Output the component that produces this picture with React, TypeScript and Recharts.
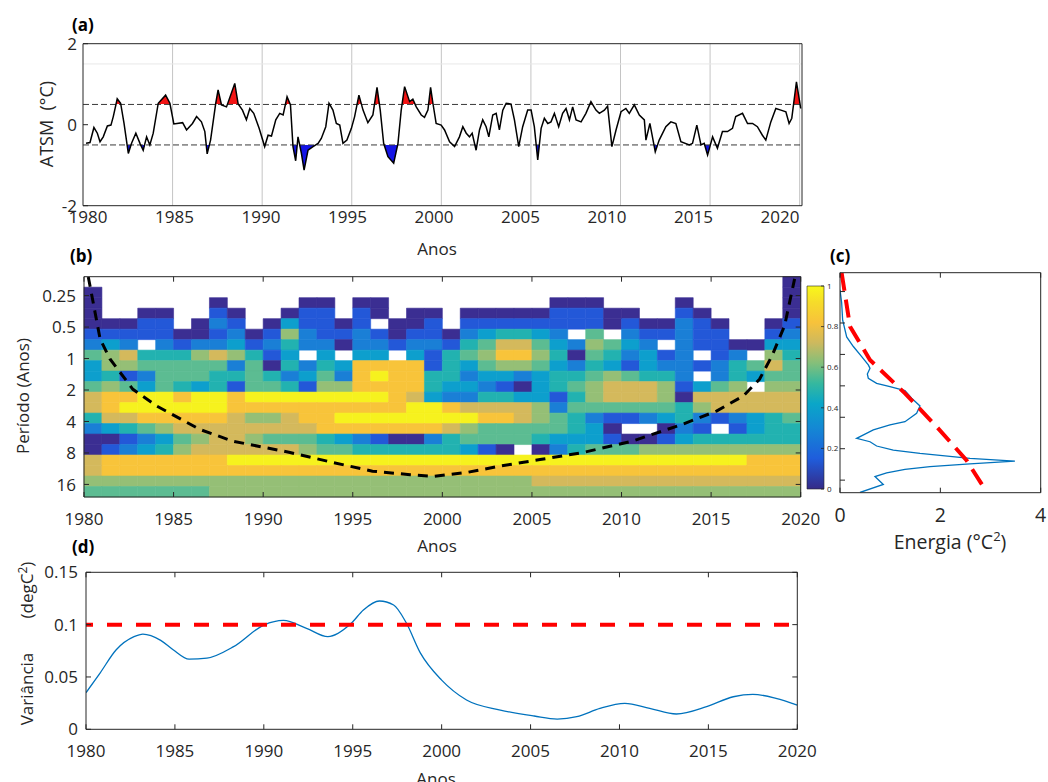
import React from 'react';
import { ComposedChart, Line, Area, XAxis, YAxis, ReferenceLine, ReferenceArea } from 'recharts';

const FONT = '"Open Sans", "DejaVu Sans", Arial, sans-serif';
const INK = '#262626';

/* ---------------- shared ticks ---------------- */
const yearTicks = [1980, 1985, 1990, 1995, 2000, 2005, 2010, 2015, 2020];
const periodTicks = [0.25, 0.5, 1, 2, 4, 8, 16];

/* ---------------- (a) ATSM series ---------------- */
const atsmYear = [
  1980.17, 1980.39, 1980.61, 1980.8, 1980.95, 1981.13, 1981.36, 1981.56, 1981.69, 1981.91,
  1982.1, 1982.29, 1982.53, 1982.71, 1982.95, 1983.18, 1983.36, 1983.55, 1983.73, 1983.92,
  1984.2, 1984.61, 1984.85, 1985.07, 1985.56, 1985.78, 1986.11, 1986.34, 1986.61, 1986.8,
  1986.93, 1987.12, 1987.41, 1987.54, 1987.73, 1988.01, 1988.47, 1988.66, 1988.9, 1989.12,
  1989.31, 1989.53, 1989.83, 1990.14, 1990.33, 1990.52, 1990.76, 1990.98, 1991.17, 1991.39,
  1991.58, 1991.72, 1991.87, 1992.0, 1992.19, 1992.34, 1992.56, 1992.84, 1993.12, 1993.3,
  1993.55, 1993.73, 1993.95, 1994.14, 1994.33, 1994.51, 1994.73, 1994.98, 1995.16, 1995.4,
  1995.63, 1995.9, 1996.18, 1996.41, 1996.59, 1996.78, 1997.02, 1997.34, 1997.58, 1997.76,
  1997.95, 1998.23, 1998.41, 1998.6, 1998.88, 1999.06, 1999.25, 1999.4, 1999.53, 1999.71,
  1999.99, 2000.18, 2000.46, 2000.74, 2001.01, 2001.2, 2001.39, 2001.57, 2001.72, 2001.94,
  2002.13, 2002.31, 2002.5, 2002.65, 2002.87, 2003.06, 2003.24, 2003.43, 2003.62, 2003.89,
  2004.08, 2004.32, 2004.54, 2004.82, 2005.01, 2005.19, 2005.38, 2005.57, 2005.75, 2005.94,
  2006.12, 2006.31, 2006.55, 2006.77, 2006.96, 2007.15, 2007.33, 2007.52, 2007.8, 2008.07,
  2008.35, 2008.63, 2008.82, 2009.1, 2009.28, 2009.52, 2009.75, 2010.03, 2010.3, 2010.49,
  2010.77, 2011.05, 2011.33, 2011.42, 2011.64, 2011.94, 2012.16, 2012.53, 2012.81, 2013.09,
  2013.37, 2013.84, 2014.02, 2014.26, 2014.49, 2014.67, 2014.86, 2015.14, 2015.41, 2015.69,
  2015.97, 2016.25, 2016.43, 2016.81, 2017.09, 2017.37, 2017.64, 2017.92, 2018.11, 2018.39,
  2018.67, 2018.95, 2019.23, 2019.41, 2019.56, 2019.82, 2020.06,
];
const atsmValue = [
  -0.46, -0.44, -0.07, -0.21, -0.42, -0.3, -0.03, -0.01, 0.2, 0.64,
  0.53, 0.03, -0.71, -0.46, -0.21, -0.46, -0.63, -0.3, -0.5, -0.21,
  0.53, 0.73, 0.53, 0.02, 0.05, -0.13, 0.03, 0.2, 0.07, -0.17,
  -0.72, -0.38, 0.53, 0.86, 0.49, 0.44, 1.02, 0.51, 0.36, 0.12,
  0.4, 0.28, -0.09, -0.54, -0.26, -0.28, 0.12, 0.28, 0.24, 0.69,
  0.49, -0.54, -0.89, -0.3, -0.71, -1.12, -0.63, -0.54, -0.46, -0.34,
  -0.05, 0.53, 0.36, 0.03, -0.01, -0.46, -0.38, -0.09, 0.2, 0.73,
  0.36, 0.05, 0.24, 0.92, 0.36, -0.46, -0.79, -0.95, -0.46, 0.36,
  0.94, 0.57, 0.63, 0.44, 0.24, 0.18, 0.36, 0.92, 0.53, 0.03,
  -0.01, -0.13, -0.42, -0.54, -0.3, -0.05, -0.21, -0.3, -0.21, -0.63,
  -0.13, 0.12, -0.05, -0.3, 0.24, 0.28, -0.13, 0.36, 0.53, 0.51,
  0.12, -0.54, -0.05, 0.36, 0.36, -0.05, -0.87, -0.09, 0.16, 0.03,
  0.07, 0.28, -0.05, 0.28, 0.4, 0.12, 0.44, 0.12, 0.07, 0.28,
  0.57, 0.36, 0.28, 0.36, 0.46, -0.54, -0.13, 0.32, 0.4, 0.28,
  0.49, 0.24, 0.12, -0.38, 0.03, -0.67, -0.38, -0.05, 0.07, 0.03,
  -0.42, -0.5, -0.46, -0.01, -0.5, -0.46, -0.75, -0.3, -0.58, -0.17,
  -0.17, -0.09, 0.2, 0.28, 0.03, 0.03, -0.05, -0.26, -0.38, 0.07,
  0.4, 0.36, 0.32, 0.03, 0.16, 1.06, 0.4,
];
const atsmTicks = [-2, 0, 2];
const warmLimit = 0.5;
const coldLimit = -0.5;

/* ---------------- (b) wavelet power ---------------- */
const waveYearEdges = [
  1980, 1981, 1982, 1983, 1984, 1985, 1986, 1987, 1988, 1989, 1990, 1991, 1992, 1993,
  1994, 1995, 1996, 1997, 1998, 1999, 2000, 2001, 2002, 2003, 2004, 2005, 2006, 2007,
  2008, 2009, 2010, 2011, 2012, 2013, 2014, 2015, 2016, 2017, 2018, 2019, 2020,
];
const periodEdges = [
  0.1649, 0.2078, 0.2618, 0.3299, 0.4156, 0.5236, 0.6597, 0.8312, 1.0473, 1.3195, 1.6624,
  2.0945, 2.639, 3.3249, 4.189, 5.2778, 6.6498, 8.3781, 10.5558, 13.2994, 16.7562, 21.1115,
];
// normalised power level for each year column (0 = lowest contour ... 9 = highest, '.' = outside the contours)
// rows go from the shortest period (top) to the longest (bottom); each row is four decades
const powerRows = [
  ['..........', '..........', '..........', '.........0'],
  ['0.........', '..........', '..........', '.........0'],
  ['0......0..', '..00.00...', '......000.', '...0.....0'],
  ['0..00..10.', '.011.10.00', '.000001110', '0..10....0'],
  ['00011.021.', '031101.001', '.111111110', '100210..01'],
  ['1111100120', '1621121011', '0234432.5.', '211211..12'],
  ['232.212231', '2422022122', '1457753265', '32.2110033'],
  ['5674446764', '13.3.33.31', '4568864054', '2312.12.64'],
  ['3665555525', '0424388881', '4356653243', '1322124575'],
  ['3412555445', '4235289884', '4233234456', '5442.24355'],
  ['5653543415', '5416688884', '3321034567', '7761356.66'],
  ['7889989989', '9999999873', '2244331467', '7760777777'],
  ['7899999988', '8888888899', '8777762555', '5554677777'],
  ['4778888876', '6788999999', '9988765421', '1234212345'],
  ['2345677777', '7778888888', '7655555430', '..021.1344'],
  ['0012356776', '5554321002', '4555543331', '0013444444'],
  ['0123467777', '7765544444', '4310.02455', '5666666666'],
  ['7888888899', '9999999999', '9999999999', '9999999888'],
  ['7888888888', '8888888888', '8888888888', '8888888888'],
  ['6666666666', '6666666666', '6666677777', '7777777777'],
  ['5555555666', '6666666666', '6666666666', '6666666666'],
];
const powerColors = [
  '#3b2e92', '#2358d8', '#1a7fd6', '#0d9fcd', '#22b2b0',
  '#5cbc92', '#95bf76', '#d4b95c', '#f8c43a', '#f6f21e',
];
const coiYear = [
  1980.24, 1980.9, 1981.45, 1982.73, 1984.06, 1986.47, 1988.3, 1991.5, 1993.9, 1996.1, 1998.2,
  1999.5, 2001.36, 2003.2, 2005.45, 2007.85, 2010.6, 2013.4, 2015.3, 2016.8, 2017.7, 2018.4,
  2019.1, 2019.66,
];
const coiPeriod = [
  0.166, 0.65, 1.01, 1.97, 2.85, 4.77, 6.17, 7.92, 9.88, 11.96, 12.9, 13.4, 12.3, 10.7, 9.26,
  7.92, 6.17, 4.26, 3.18, 2.28, 1.58, 0.94, 0.486, 0.173,
];
const colorbarTicks = [0, 0.2, 0.4, 0.6, 0.8, 1];
const colorbarStops: [number, string][] = [
  [0, '#352a87'], [0.15, '#1f5ddc'], [0.3, '#1488d4'], [0.42, '#0aa6c8'], [0.52, '#35b89f'],
  [0.62, '#84bf7a'], [0.72, '#cdb95e'], [0.82, '#f7c23b'], [0.92, '#f6dc2a'], [1, '#f8f81a'],
];

/* ---------------- (c) global spectrum ---------------- */
const gwsEnergy = [
  0, 0.033, 0.053, 0.133, 0.266, 0.432, 0.564, 0.598, 0.545, 0.564, 0.73, 0.996, 1.295, 1.428,
  1.594, 1.527, 1.295, 0.996, 0.664, 0.332, 0.598, 0.73, 1.062, 1.594, 2.59, 3.486, 2.59, 1.793,
  1.295, 0.93, 0.697, 0.863, 0.398,
];
const gwsPeriod = [
  0.24, 0.32, 0.47, 0.68, 0.84, 1.05, 1.26, 1.36, 1.54, 1.69, 1.89, 2.03, 2.22, 2.63, 3.12, 3.66,
  4.41, 4.74, 5.29, 6.36, 6.86, 7.54, 8.24, 8.86, 9.89, 10.5, 11.2, 11.9, 12.6, 13.6, 14.8, 17.6,
  21.0,
];
const sigEnergy = [0.033, 0.2, 0.598, 1.295, 1.926, 2.52, 2.89];
const sigPeriod = [0.166, 0.541, 1.13, 2.36, 4.92, 10.3, 19.6];
const energyTicks = [0, 2, 4];

/* ---------------- (d) scale-averaged variance ---------------- */
const varYear = [
  1980.0, 1980.8, 1981.7, 1982.7, 1983.2, 1984.2, 1984.9, 1985.8, 1986.8, 1988.3, 1990.0, 1991.1,
  1992.4, 1993.6, 1994.9, 1995.6, 1996.5, 1997.3, 1998.0, 1998.8, 2000.0, 2001.4, 2003.3, 2005.2,
  2006.5, 2007.6, 2008.9, 2010.3, 2011.7, 2013.2, 2014.9, 2016.4, 2017.5, 2018.8, 2020.0,
];
const varValue = [
  0.035, 0.054, 0.076, 0.0885, 0.091, 0.085, 0.076, 0.067, 0.068, 0.079, 0.0996, 0.104, 0.0965,
  0.0885, 0.101, 0.114, 0.1226, 0.1188, 0.102, 0.073, 0.047, 0.028, 0.0184, 0.0127, 0.0098,
  0.012, 0.02, 0.0248, 0.02, 0.0146, 0.0216, 0.0311, 0.0334, 0.0296, 0.0232,
];
const varTicks = [0, 0.05, 0.1, 0.15];
const varSignificance = 0.1;

/* ---------------- derived tables ---------------- */
const nA = Math.min(atsmYear.length, atsmValue.length);
const atsmData = atsmYear.slice(0, nA).map((year, i) => ({ year, v: atsmValue[i] }));
const aMax = Math.max(...atsmValue.slice(0, nA));
const aMin = Math.min(...atsmValue.slice(0, nA));
const warmOff = (aMax - warmLimit) / (aMax - aMin);
const coldOff = (aMax - coldLimit) / (aMax - aMin);

const coiData = coiYear.map((year, i) => ({ year, p: coiPeriod[i] }));
const gwsData = gwsEnergy.map((e, i) => ({ e, p: gwsPeriod[i] }));
const sigData = sigEnergy.map((e, i) => ({ e, p: sigPeriod[i] }));
const varData = varYear.map((year, i) => ({ year, v: varValue[i] }));
const cbData = colorbarTicks.map((t) => ({ t }));

type Cell = { x1: number; x2: number; y1: number; y2: number; c: string };
const cells: Cell[] = [];
powerRows.forEach((chunks, i) => {
  const row = chunks.join('');
  for (let j = 0; j < waveYearEdges.length - 1; j++) {
    const ch = row[j];
    if (ch === undefined || ch === '.') continue;
    const lv = Number(ch);
    if (Number.isNaN(lv)) continue;
    cells.push({
      x1: waveYearEdges[j], x2: waveYearEdges[j + 1],
      y1: periodEdges[i], y2: periodEdges[i + 1], c: powerColors[lv],
    });
  }
});
const pDomain: [number, number] = [periodEdges[0], periodEdges[periodEdges.length - 1]];

/* ---------------- tick renderers ---------------- */
const txt = (fs: number) => ({ fontSize: fs, fill: INK, fontFamily: FONT });

function bottomTick(m: number, fs: number, mark: boolean) {
  return (p: any) => {
    const ay = p.y - m;
    return (
      <g>
        {mark && <line x1={p.x} x2={p.x} y1={ay} y2={ay - 5} stroke={INK} strokeWidth={1} />}
        <text x={p.x} y={p.y} textAnchor="middle" {...txt(fs)}>{String(p.payload.value)}</text>
      </g>
    );
  };
}
function leftTick(m: number, fs: number, mark: boolean, label = true) {
  return (p: any) => {
    const ax = p.x + m;
    return (
      <g>
        {mark && <line x1={ax} x2={ax + 5} y1={p.y} y2={p.y} stroke={INK} strokeWidth={1} />}
        {label && (
          <text x={p.x} y={p.y} dy="0.36em" textAnchor="end" {...txt(fs)}>{String(p.payload.value)}</text>
        )}
      </g>
    );
  };
}
const topTick = (p: any) => <line x1={p.x} x2={p.x} y1={p.y} y2={p.y + 5} stroke={INK} strokeWidth={1} />;
const rightTick = (p: any) => <line x1={p.x - 5} x2={p.x} y1={p.y} y2={p.y} stroke={INK} strokeWidth={1} />;
const cbTick = (p: any) => (
  <g>
    <line x1={p.x - 3} x2={p.x} y1={p.y} y2={p.y} stroke={INK} strokeWidth={0.8} />
    <text x={p.x + 3} y={p.y} dy="0.35em" fontSize={8} fill={INK} fontFamily={FONT}>{String(p.payload.value)}</text>
  </g>
);

const box = { stroke: INK, strokeWidth: 1 };
const abs = (left: number, top: number): React.CSSProperties => ({ position: 'absolute', left, top });
const ghost = { stroke: 'none', dot: false as const, activeDot: false as const, isAnimationActive: false, legendType: 'none' as const };

export default function App() {
  return (
    <div style={{ position: 'absolute', left: 0, top: 0, width: 1048, height: 782, background: '#fff', fontFamily: FONT, overflow: 'hidden' }}>
      {/* (a) */}
      <div style={abs(0, 0)}>
        <ComposedChart width={820} height={240} data={atsmData} margin={{ top: 42.7, right: 17, bottom: 4.3, left: 43 }}>
          <defs>
            <linearGradient id="warmFill" x1="0" y1="0" x2="0" y2="1">
              <stop offset={warmOff} stopColor="#f31414" stopOpacity={1} />
              <stop offset={warmOff} stopColor="#f31414" stopOpacity={0} />
            </linearGradient>
            <linearGradient id="coldFill" x1="0" y1="0" x2="0" y2="1">
              <stop offset={coldOff} stopColor="#1414e6" stopOpacity={0} />
              <stop offset={coldOff} stopColor="#1414e6" stopOpacity={1} />
            </linearGradient>
          </defs>
          <XAxis xAxisId="d" orientation="top" dataKey="year" type="number" domain={[1980, 2020.13]} tick={false}
            tickLine={false} axisLine={box} height={1} allowDataOverflow />
          <XAxis xAxisId="lab" dataKey="year" type="number" domain={[1979.71, 2021.27]} ticks={yearTicks} interval={0}
            tickSize={0} tickMargin={17} tickLine={false} axisLine={box} tick={bottomTick(17, 17, false)} height={30} allowDataOverflow />
          <YAxis yAxisId="l" type="number" domain={[-2, 2]} ticks={atsmTicks} interval={0} tickSize={0} tickMargin={6}
            tickLine={false} axisLine={box} tick={leftTick(6, 17, true)} width={40} allowDataOverflow />
          <YAxis yAxisId="r" orientation="right" type="number" domain={[-2, 2]} tick={false} tickLine={false}
            axisLine={box} width={1} allowDataOverflow />
          {yearTicks.slice(1).map((y) => (
            <ReferenceLine key={y} xAxisId="d" yAxisId="l" x={y} stroke="#c4c4c4" strokeWidth={1} />
          ))}
          <ReferenceLine xAxisId="d" yAxisId="l" y={1.5} stroke="#e8e8e8" strokeWidth={1} />
          <Area xAxisId="d" yAxisId="l" dataKey="v" type="linear" baseValue={warmLimit} fill="url(#warmFill)"
            fillOpacity={1} stroke="none" isAnimationActive={false} />
          <Area xAxisId="d" yAxisId="l" dataKey="v" type="linear" baseValue={coldLimit} fill="url(#coldFill)"
            fillOpacity={1} stroke="none" isAnimationActive={false} />
          <ReferenceLine xAxisId="d" yAxisId="l" y={warmLimit} stroke="#3a3a3a" strokeWidth={1} strokeDasharray="6 3" />
          <ReferenceLine xAxisId="d" yAxisId="l" y={coldLimit} stroke="#3a3a3a" strokeWidth={1} strokeDasharray="6 3" />
          <Line xAxisId="lab" yAxisId="r" dataKey="v" {...ghost} />
          <Line xAxisId="d" yAxisId="l" dataKey="v" type="linear" stroke="#000" strokeWidth={1.5} dot={false}
            activeDot={false} isAnimationActive={false} />
        </ComposedChart>
      </div>

      {/* (b) */}
      <div style={abs(0, 250)}>
        <ComposedChart width={830} height={280} data={coiData} margin={{ top: 25.7, right: 28.3, bottom: 3, left: 44 }}>
          <XAxis dataKey="year" type="number" domain={[1980, 2020]} ticks={yearTicks} interval={0} tickSize={0}
            tickMargin={28} tickLine={false} axisLine={box} tick={bottomTick(28, 17, true)} height={30} allowDataOverflow />
          <XAxis xAxisId="top" orientation="top" dataKey="year" type="number" domain={[1980, 2020]} ticks={yearTicks}
            interval={0} tickSize={0} tickMargin={0} tickLine={false} axisLine={box} tick={topTick} height={1} allowDataOverflow />
          <YAxis type="number" scale="log" domain={pDomain} reversed ticks={periodTicks} interval={0} tickSize={0}
            tickMargin={8} tickLine={false} axisLine={box} tick={leftTick(8, 17, true)} width={40} allowDataOverflow />
          <YAxis yAxisId="r" orientation="right" type="number" scale="log" domain={pDomain} reversed ticks={periodTicks}
            interval={0} tickSize={0} tickMargin={0} tickLine={false} axisLine={box} tick={rightTick} width={1} allowDataOverflow />
          {cells.map((c, k) => (
            <ReferenceArea key={k} x1={c.x1} x2={c.x2} y1={c.y1} y2={c.y2} fill={c.c} fillOpacity={1}
              stroke={c.c} strokeWidth={0.6} />
          ))}
          <Line xAxisId="top" yAxisId="r" dataKey="p" {...ghost} />
          <Line dataKey="p" type="linear" stroke="#000" strokeWidth={3} strokeDasharray="10 7" dot={false}
            activeDot={false} isAnimationActive={false} />
        </ComposedChart>
      </div>

      {/* colorbar */}
      <div style={abs(795, 270)}>
        <ComposedChart width={60} height={240} data={cbData} margin={{ top: 16, right: 11, bottom: 21, left: 12 }}>
          <defs>
            <linearGradient id="parula" x1="0" y1="1" x2="0" y2="0">
              {colorbarStops.map(([o, c]) => (
                <stop key={String(o)} offset={o} stopColor={c} />
              ))}
            </linearGradient>
          </defs>
          <XAxis dataKey="t" type="number" domain={[0, 1]} hide height={0} allowDataOverflow />
          <YAxis orientation="right" type="number" domain={[0, 1]} ticks={colorbarTicks} interval={0} tickSize={0}
            tickMargin={0} tickLine={false} axisLine={false} tick={cbTick} width={20} allowDataOverflow />
          <ReferenceArea x1={0} x2={1} y1={0} y2={1} fill="url(#parula)" fillOpacity={1} stroke={INK} strokeWidth={0.6} />
          <Line dataKey="t" {...ghost} />
        </ComposedChart>
      </div>

      {/* (c) */}
      <div style={abs(800, 250)}>
        <ComposedChart width={248} height={310} margin={{ top: 21.7, right: 6.3, bottom: 37.3, left: 39 }}>
          <XAxis dataKey="e" type="number" domain={[0, 4]} ticks={energyTicks} interval={0} tickSize={0}
            tickMargin={29.3} tickLine={false} axisLine={box} tick={bottomTick(29.3, 19.5, true)} height={30} allowDataOverflow />
          <XAxis xAxisId="top" orientation="top" dataKey="e" type="number" domain={[0, 4]} ticks={energyTicks} interval={0}
            tickSize={0} tickMargin={0} tickLine={false} axisLine={box} tick={topTick} height={1} allowDataOverflow />
          <YAxis type="number" scale="log" domain={pDomain} reversed ticks={periodTicks} interval={0} tickSize={0}
            tickMargin={0} tickLine={false} axisLine={box} tick={leftTick(0, 17, true, false)} width={1} allowDataOverflow />
          <YAxis yAxisId="r" orientation="right" type="number" scale="log" domain={pDomain} reversed tick={false}
            tickLine={false} axisLine={box} width={1} allowDataOverflow />
          <Line xAxisId="top" yAxisId="r" data={gwsData} dataKey="p" {...ghost} />
          <Line data={gwsData} dataKey="p" type="linear" stroke="#0072bd" strokeWidth={1.3} dot={false}
            activeDot={false} isAnimationActive={false} />
          <Line data={sigData} dataKey="p" type="linear" stroke="#ff0000" strokeWidth={4} strokeDasharray="18 9"
            dot={false} activeDot={false} isAnimationActive={false} />
        </ComposedChart>
      </div>

      {/* (d) */}
      <div style={abs(0, 540)}>
        <ComposedChart width={820} height={242} data={varData} margin={{ top: 31.3, right: 21.7, bottom: 22.7, left: 46 }}>
          <XAxis dataKey="year" type="number" domain={[1980, 2020]} ticks={yearTicks} interval={0} tickSize={0}
            tickMargin={27.7} tickLine={false} axisLine={box} tick={bottomTick(27.7, 17, true)} height={30} allowDataOverflow />
          <XAxis xAxisId="top" orientation="top" dataKey="year" type="number" domain={[1980, 2020]} ticks={yearTicks}
            interval={0} tickSize={0} tickMargin={0} tickLine={false} axisLine={box} tick={topTick} height={1} allowDataOverflow />
          <YAxis type="number" domain={[0, 0.15]} ticks={varTicks} interval={0} tickSize={0} tickMargin={8}
            tickLine={false} axisLine={box} tick={leftTick(8, 17, true)} width={40} allowDataOverflow />
          <YAxis yAxisId="r" orientation="right" type="number" domain={[0, 0.15]} ticks={varTicks} interval={0}
            tickSize={0} tickMargin={0} tickLine={false} axisLine={box} tick={rightTick} width={1} allowDataOverflow />
          <Line xAxisId="top" yAxisId="r" dataKey="v" {...ghost} />
          <Line dataKey="v" type="monotone" stroke="#0072bd" strokeWidth={1.3} dot={false} activeDot={false}
            isAnimationActive={false} />
          <ReferenceLine y={varSignificance} stroke="#ff0000" strokeWidth={4} strokeDasharray="15 14" strokeDashoffset={8} />
        </ComposedChart>
      </div>

      {/* titles and axis labels */}
      <svg width={1048} height={782} style={{ position: 'absolute', left: 0, top: 0, pointerEvents: 'none' }} fontFamily={FONT}>
        <text x={72} y={31} fontSize={17} fontWeight={700} fill="#000">(a)</text>
        <text transform="translate(53,124) rotate(-90)" textAnchor="middle" fontSize={18} fill={INK} style={{ whiteSpace: 'pre' }}>ATSM  (°C)</text>
        <text x={437} y={255} textAnchor="middle" fontSize={17} fill={INK}>Anos</text>
        <text x={70} y={262} fontSize={17} fontWeight={700} fill="#000">(b)</text>
        <text transform="translate(29,396) rotate(-90)" textAnchor="middle" fontSize={17} fill={INK}>Período (Anos)</text>
        <text x={437} y={552} textAnchor="middle" fontSize={17} fill={INK}>Anos</text>
        <text x={830} y={262} fontSize={17} fontWeight={700} fill="#000">(c)</text>
        <text x={950} y={549} textAnchor="middle" fontSize={19.5} fill={INK}>
          Energia (°C<tspan dy={-8} fontSize={13}>2</tspan><tspan dy={8}>)</tspan>
        </text>
        <text x={72} y={553} fontSize={17} fontWeight={700} fill="#000">(d)</text>
        <text transform="translate(33,689) rotate(-90)" textAnchor="middle" fontSize={17} fill={INK}>Variância</text>
        <text transform="translate(33,590) rotate(-90)" textAnchor="middle" fontSize={17} fill={INK}>
          (degC<tspan dy={-6} fontSize={12}>2</tspan><tspan dy={6}>)</tspan>
        </text>
        <text x={436} y={785} textAnchor="middle" fontSize={17} fill={INK}>Anos</text>
      </svg>
    </div>
  );
}
